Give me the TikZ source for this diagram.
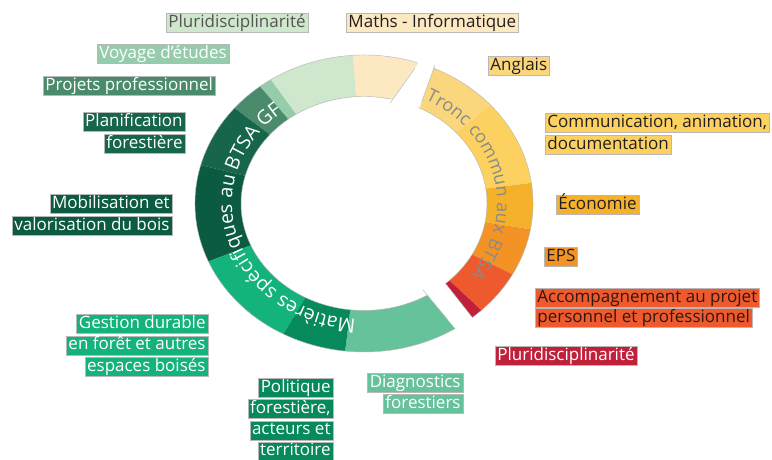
\documentclass[tikz,border=0pt]{standalone}
\usepackage{fontspec}
\setmainfont{Open Sans}
\usetikzlibrary{calc,decorations.text}
\definecolor{cCream}{HTML}{FCE9C1}
\definecolor{cAng}{HTML}{FAD67C}
\definecolor{cCom}{HTML}{FCD160}
\definecolor{cEco}{HTML}{F6B12A}
\definecolor{cEPS}{HTML}{F39325}
\definecolor{cAcc}{HTML}{EE5A2D}
\definecolor{cRed}{HTML}{C1203A}
\definecolor{cDiag}{HTML}{66C29B}
\definecolor{cPol}{HTML}{078A5B}
\definecolor{cGes}{HTML}{13B37B}
\definecolor{cMob}{HTML}{0B5A42}
\definecolor{cPla}{HTML}{17654B}
\definecolor{cPro}{HTML}{4A8B6C}
\definecolor{cVoy}{HTML}{95CCAB}
\definecolor{cPlu}{HTML}{CFE7CC}
\definecolor{cDark}{HTML}{231F20}
\definecolor{cAccTxt}{HTML}{2E1810}
\definecolor{cGrayTxt}{HTML}{555555}
\definecolor{cRingTxt}{HTML}{8A8A8A}
\newcommand\labfont{\fontsize{17}{18}\selectfont}
\newcommand\ringfont{\fontsize{19.5}{20}\selectfont}
\newcommand\ringfontB{\fontsize{18}{19}\selectfont}
\newcommand\ringseg[3]{\fill[#3] ($(C)+(#1:169pt and 148.5pt)$) arc[start angle=#1,end angle=#2,x radius=169pt,y radius=148.5pt] -- ($(C)+(#2:123pt and 107pt)$) arc[start angle=#2,end angle=#1,x radius=123pt,y radius=107pt] -- cycle;}
\begin{document}
\begin{tikzpicture}[x=1pt,y=1pt,
  lab/.style={font=\labfont, inner xsep=2.2pt, inner ysep=1pt, text height=13pt, text depth=4pt, draw=black!28, line width=0.5pt},
  ringline/.style={draw=black!28, line width=0.45pt}]
\useasboundingbox (0,0) rectangle (772,459);
\fill[white] (0,0) rectangle (772,459);
\coordinate (C) at (364,255.5);
% ring segments
\ringseg{93.7}{68}{cCream}
\ringseg{68}{41.5}{cAng}
\ringseg{41.5}{8}{cCom}
\ringseg{8}{-10}{cEco}
\ringseg{-10}{-28.5}{cEPS}
\ringseg{-28.5}{-46}{cAcc}
\ringseg{-46}{-54}{cRed}
\ringseg{-54}{-96.4}{cDiag}
\ringseg{93.7}{123.5}{cPlu}
\ringseg{123.5}{128}{cVoy}
\ringseg{128}{140}{cPro}
\ringseg{140}{165}{cPla}
\ringseg{165}{203}{cMob}
\ringseg{203}{241.5}{cGes}
\ringseg{241.5}{263.6}{cPol}
% gaps
\fill[white] (380,341.7) -- (425,404.7) -- (440.3,408.7) -- (416.4,342.6) -- cycle;
\fill[white] (436.7,186.7) -- (481.7,129.6) -- (458,127) -- (413,181) -- cycle;
% outlines
\draw[ringline] ($(C)+(71.7:169pt and 148.5pt)$) arc[start angle=71.7,end angle=302.3,x radius=169pt,y radius=148.5pt];
\draw[ringline] ($(C)+(77.3:123pt and 107pt)$) arc[start angle=77.3,end angle=300.7,x radius=123pt,y radius=107pt];
\draw[ringline] ($(C)+(65.8:169pt and 148.5pt)$) arc[start angle=65.8,end angle=-49.8,x radius=169pt,y radius=148.5pt];
\draw[ringline] ($(C)+(63.7:123pt and 107pt)$) arc[start angle=63.7,end angle=-48.6,x radius=123pt,y radius=107pt];
\draw[ringline] (390,355.7) -- (415,390.7);
\draw[ringline] (421.7,357.3) -- (435,394);
\draw[ringline] (446.7,174) -- (471.7,142.3);
\draw[ringline] (423,169) -- (448,139);
% ring texts
\path[decorate, decoration={text along path, text={|\ringfont|Matières spécifiques au BTSA GF}, text color=white, text align=left}]
  ($(C)+(-93.5:132pt and 116pt)$) arc[start angle=-93.5,end angle=-262,x radius=132pt,y radius=116pt];
\path[decorate, decoration={text along path, text={|\ringfontB|Tronc commun aux BTSA}, text color=cRingTxt, text align=left}]
  ($(C)+(62.5:133pt and 117pt)$) arc[start angle=62.5,end angle=-70,x radius=133pt,y radius=117pt];
% labels
\node[lab, fill=cPlu, text=cGrayTxt, anchor=north west] (pluritop) at (166,446) {Pluridisciplinarité};
\node[lab, fill=cCream, text=cDark, anchor=north west] (maths) at (346,446) {Maths - Informatique};
\node[lab, fill=cVoy, text=white, anchor=north west] (voyage) at (97,415) {Voyage d’études};
\node[lab, fill=cPro, text=white, anchor=north west] (projets) at (43,383) {Projets professionnel};
\node[lab, fill=cPla, text=white, anchor=north east] (plan1) at (185,347) {Planification};
\node[lab, fill=cPla, text=white, anchor=north east] (plan2) at (185,325) {forestière};
\node[lab, fill=cMob, text=white, anchor=north east] (mob1) at (172,265) {Mobilisation et};
\node[lab, fill=cMob, text=white, anchor=north east] (mob2) at (172,243) {valorisation du bois};
\node[lab, fill=cGes, text=white, anchor=north east] (ges1) at (208,145) {Gestion durable};
\node[lab, fill=cGes, text=white, anchor=north east] (ges2) at (208,123.5) {en forêt et autres};
\node[lab, fill=cGes, text=white, anchor=north east] (ges3) at (208,102) {espaces boisés};
\node[lab, fill=cPol, text=white, anchor=north east] (pol1) at (333,81) {Politique};
\node[lab, fill=cPol, text=white, anchor=north east] (pol2) at (333,60) {forestière,};
\node[lab, fill=cPol, text=white, anchor=north east] (pol3) at (333,38.5) {acteurs et};
\node[lab, fill=cPol, text=white, anchor=north east] (pol4) at (333,17.5) {territoire};
\node[lab, fill=cDiag, text=white, anchor=north east] (diag1) at (463,86) {Diagnostics};
\node[lab, fill=cDiag, text=white, anchor=north east] (diag2) at (463,65) {forestiers};
\node[lab, fill=cRed, text=white, anchor=north west] (plurired) at (495,113) {Pluridisciplinarité};
\node[lab, fill=cAcc, text=cAccTxt, anchor=north west] (acc1) at (535,171) {Accompagnement au projet};
\node[lab, fill=cAcc, text=cAccTxt, anchor=north west] (acc2) at (535,151) {personnel et professionnel};
\node[lab, fill=cEPS, text=cDark, anchor=north west] (eps) at (544,212) {EPS};
\node[lab, fill=cEco, text=cDark, anchor=north west] (eco) at (556,264) {Économie};
\node[lab, fill=cCom, text=cDark, anchor=north west] (com1) at (545,346) {Communication, animation,};
\node[lab, fill=cCom, text=cDark, anchor=north west] (com2) at (545,324) {documentation};
\node[lab, fill=cAng, text=cDark, anchor=north west] (anglais) at (488,403) {Anglais};
\end{tikzpicture}
\end{document}
